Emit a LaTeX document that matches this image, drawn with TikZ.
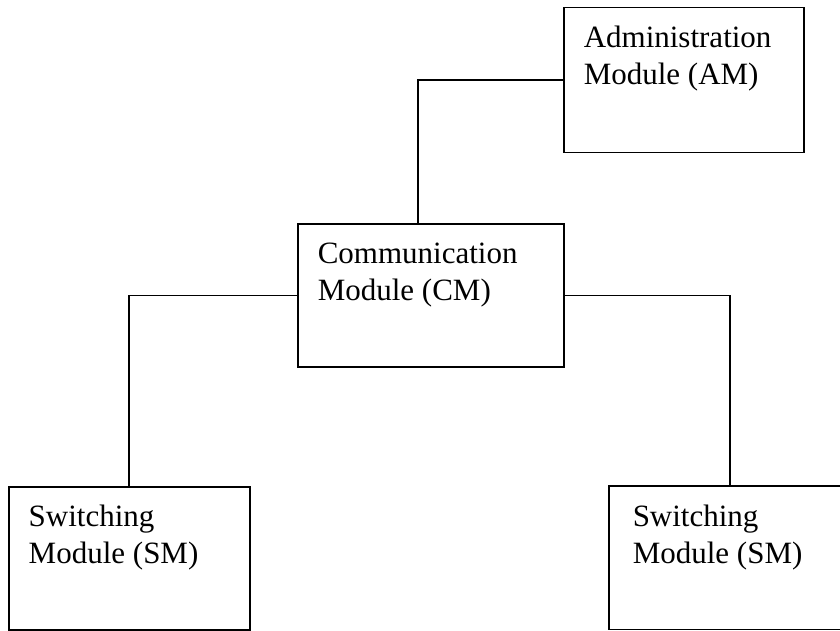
\documentclass[tikz,border=0pt]{standalone}
\usepackage{fontspec}
\setmainfont{Liberation Serif}
\newcommand\mboxtext[3]{\parbox[t][#2pt][t]{#1pt}{\leftskip=20pt\rule{0pt}{40pt}#3}}
\begin{document}
\begin{tikzpicture}[x=1pt,y=-1pt,
  box/.style={draw, line width=1.5pt, inner sep=0pt, anchor=north west,
    font=\fontsize{31}{36.7}\selectfont},
  openbox/.style={box, draw=none},
  wire/.style={line width=1.5pt}]
\useasboundingbox (0,0) rectangle (840,631);
\node[box] (am) at (563,7) {\mboxtext{240}{145}{Administration\\Module (AM)}};
\node[box] (cm) at (297,223) {\mboxtext{266}{143}{Communication\\Module (CM)}};
\node[box] (sm1) at (8,486) {\mboxtext{241}{143}{Switching\\Module (SM)}};
\node[openbox] (sm2) at (609,486) {\mboxtext{241}{142}{\hspace*{3pt}Switching\\\hspace*{3pt}Module (SM)}};
\coordinate (edge) at (840,0);
\draw[wire] (edge |- sm2.north) -- (sm2.north west) -- (sm2.south west) -- (edge |- sm2.south);
\coordinate (x1) at (418,0);
\coordinate (x2) at (129,0);
\coordinate (x3) at (730,0);
\draw[wire] (am.west) -| (x1 |- cm.north);
\draw[wire] (cm.west) -| (x2 |- sm1.north);
\draw[wire] (cm.east) -| (x3 |- sm2.north);
\end{tikzpicture}
\end{document}
